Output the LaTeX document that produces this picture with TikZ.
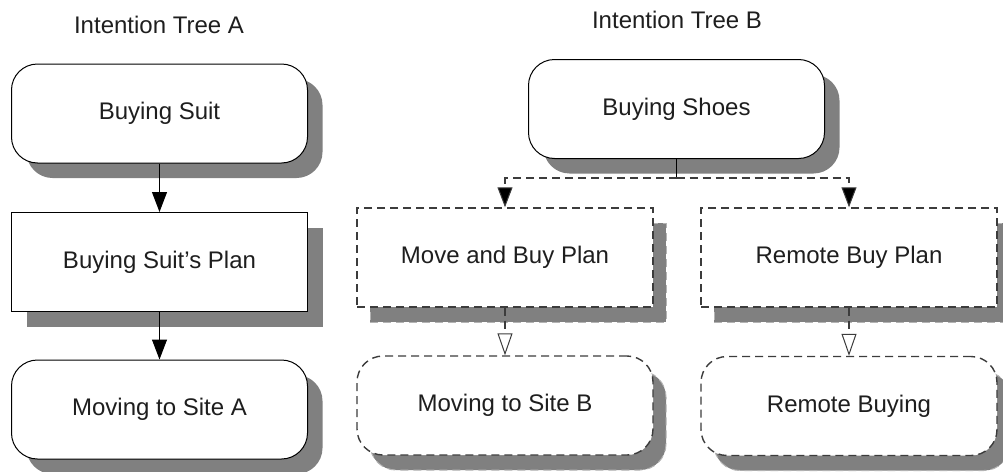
\documentclass[tikz,border=0pt]{standalone}
\usepackage{fontspec}
\setmainfont{Liberation Sans}
\usetikzlibrary{arrows.meta,shadows}
\definecolor{shgray}{HTML}{808080}
\definecolor{inkgray}{HTML}{1E1E1E}
\definecolor{dashgray}{HTML}{3C3C3C}
\tikzset{
  base box/.style={rectangle, inner sep=0pt, minimum width=296pt, minimum height=99pt,
    fill=white, text=inkgray, font=\fontsize{24}{28}\selectfont, line width=1pt},
  solid shadow/.style={drop shadow={shadow xshift=15pt, shadow yshift=-15pt, fill=shgray, opacity=1}},
  dash shadow/.style={drop shadow={shadow xshift=13pt, shadow yshift=-15pt, fill=shgray, opacity=1,
    draw=shgray!60!white, line width=1pt, dash pattern=on 8pt off 5pt}},
  goalbox/.style={base box, rounded corners=26pt, draw=black, solid shadow},
  planbox/.style={base box, draw=black, solid shadow},
  dgoalbox/.style={base box, rounded corners=26pt, draw=dashgray, line width=1.4pt,
    dash pattern=on 8pt off 5pt, dash shadow},
  dplanbox/.style={base box, draw=dashgray, line width=1.4pt, dash pattern=on 8pt off 5pt, dash shadow},
  title/.style={anchor=base, text=inkgray, font=\fontsize{24}{28}\selectfont},
  link/.style={line width=1pt, draw=black, -{Triangle[length=20pt,width=15pt]}},
  dlink/.style={line width=1.4pt, draw=dashgray, dash pattern=on 8pt off 5pt,
    -{Triangle[length=20pt,width=15pt,fill=black,line width=1pt]}},
  reflink/.style={line width=1.4pt, draw=dashgray, dash pattern=on 8pt off 5pt,
    -{Triangle[open,length=22pt,width=15pt,fill=white,line width=1pt]}}
}
\begin{document}
\begin{tikzpicture}[x=1pt,y=-1pt]
  \useasboundingbox (0,0) rectangle (1003,471);

  % tree A
  \node[title] (titleA) at (159,33) {Intention Tree A};
  \node[goalbox] (suit) at (159.5,113.5) {Buying Suit};
  \node[planbox] (suitplan) at (159.5,262) {Buying Suit’s Plan};
  \node[goalbox] (siteA) at (159.5,409.5) {Moving to Site A};
  \draw[link] (suit) -- (suitplan);
  \draw[link] (suitplan) -- (siteA);

  % tree B
  \node[title] (titleB) at (677,28) {Intention Tree B};
  \node[goalbox] (shoes) at (676.5,109) {Buying Shoes};
  \node[dplanbox] (moveplan) at (505,257.5) {Move and Buy Plan};
  \node[dplanbox] (remoteplan) at (849,257.5) {Remote Buy Plan};
  \node[dgoalbox] (siteB) at (505,405.5) {Moving to Site B};
  \node[dgoalbox] (remotebuy) at (849,406) {Remote Buying};

  \coordinate (fork) at ([yshift=-19pt]shoes.south);
  \draw[line width=1pt] (shoes.south) -- (fork);
  \draw[dlink] (fork) -| (moveplan.north);
  \draw[dlink] (fork) -| (remoteplan.north);
  \draw[reflink] (moveplan) -- (siteB);
  \draw[reflink] (remoteplan) -- (remotebuy);
\end{tikzpicture}
\end{document}
